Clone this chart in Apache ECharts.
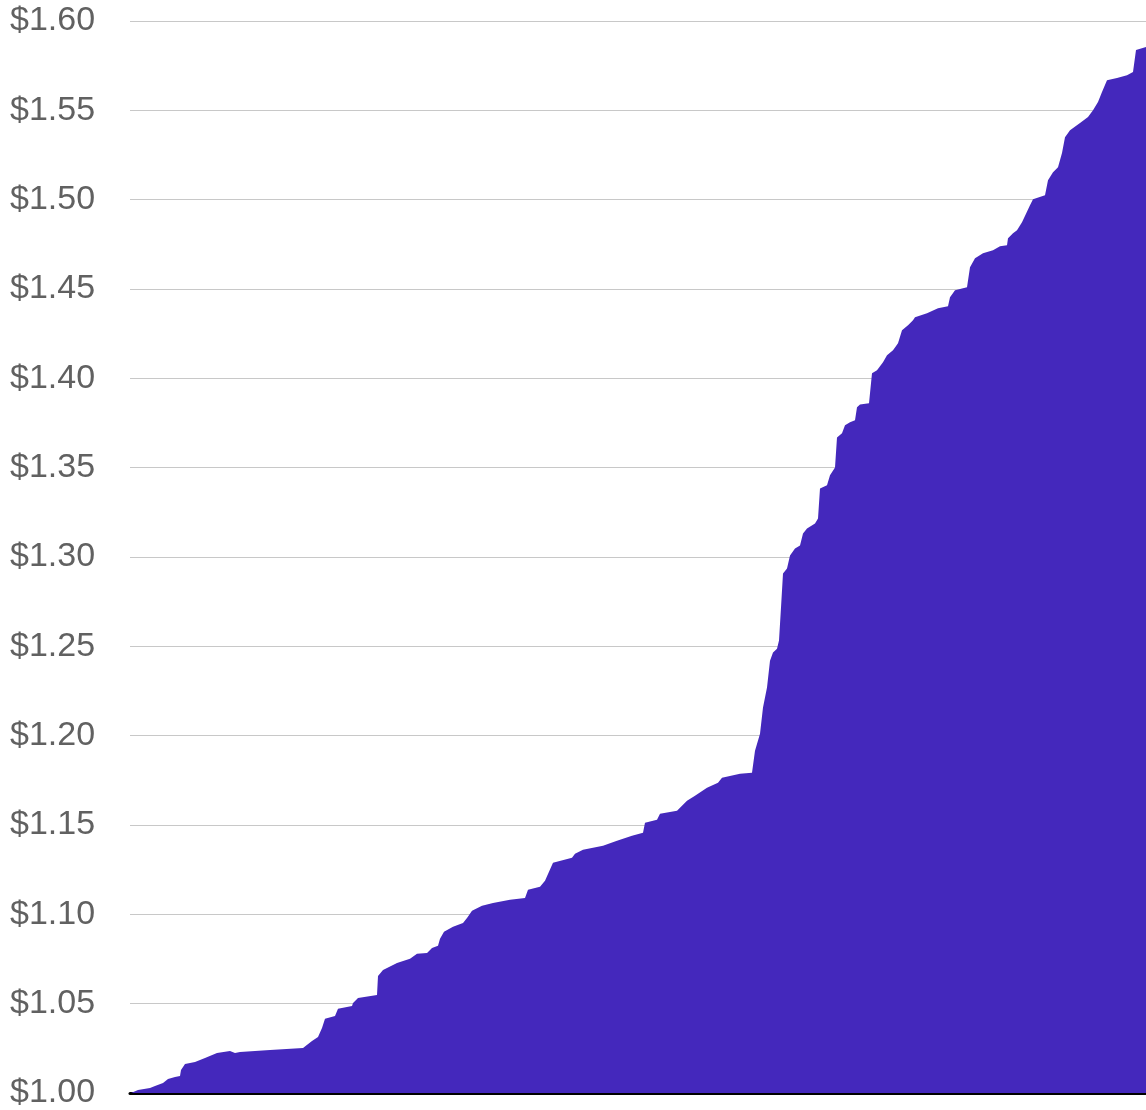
<!DOCTYPE html>
<html>
<head>
<meta charset="utf-8">
<script src="https://cdn.jsdelivr.net/npm/echarts@6/dist/echarts.min.js"></script>
<style>
  html, body { margin: 0; padding: 0; background: #fff; }
  #chart { width: 1146px; height: 1110px; }
</style>
</head>
<body>
<div id="chart"></div>
<script>
// x position along the period (0..1016), and the price at that point
var dayIdx = [
  1, 8, 20, 25, 33, 38, 45, 50, 51, 55, 65, 75, 87, 100, 105, 110, 140, 142, 173, 182,
  188, 192, 195, 205, 208, 222, 223, 228, 247, 248, 253, 267, 280, 287, 297, 302, 308, 310, 314, 323,
  333, 337, 342, 352, 363, 380, 395, 398, 410, 415, 417, 423, 442, 445, 453, 473, 487, 502, 513, 515,
  527, 530, 547, 557, 565, 577, 588, 592, 610, 622, 623, 625, 630, 633, 637, 640, 643, 647, 649, 651,
  653, 657, 660, 665, 670, 673, 677, 685, 688, 690, 697, 700, 705, 707, 712, 715, 720, 725, 727, 730,
  739, 742, 747, 753, 757, 763, 768, 772, 778, 783, 785, 797, 808, 818, 820, 825, 837, 840, 845, 853,
  863, 870, 877, 878, 883, 887, 892, 900, 903, 915, 918, 923, 928, 932, 935, 940, 950, 958, 963, 968,
  972, 977, 987, 997, 1003, 1006, 1016
];
var price = [
  1.0000, 1.0017, 1.0028, 1.0039, 1.0056, 1.0078, 1.0090, 1.0095, 1.0129, 1.0162,
  1.0174, 1.0196, 1.0224, 1.0235, 1.0224, 1.0230, 1.0241, 1.0246, 1.0252, 1.0291,
  1.0314, 1.0364, 1.0415, 1.0431, 1.0471, 1.0487, 1.0504, 1.0532, 1.0549, 1.0655,
  1.0689, 1.0728, 1.0751, 1.0779, 1.0784, 1.0812, 1.0824, 1.0863, 1.0902, 1.0930,
  1.0952, 1.0980, 1.1020, 1.1048, 1.1064, 1.1081, 1.1092, 1.1137, 1.1154, 1.1188,
  1.1199, 1.1289, 1.1317, 1.1339, 1.1361, 1.1384, 1.1412, 1.1440, 1.1457, 1.1513,
  1.1529, 1.1563, 1.1580, 1.1636, 1.1664, 1.1709, 1.1737, 1.1765, 1.1787, 1.1793,
  1.1793, 1.1916, 1.2011, 1.2157, 1.2269, 1.2420, 1.2465, 1.2487, 1.2532, 1.2717,
  1.2908, 1.2936, 1.3008, 1.3048, 1.3064, 1.3132, 1.3160, 1.3188, 1.3216, 1.3384,
  1.3401, 1.3457, 1.3501, 1.3669, 1.3692, 1.3737, 1.3754, 1.3765, 1.3838, 1.3854,
  1.3860, 1.4028, 1.4045, 1.4090, 1.4129, 1.4157, 1.4196, 1.4269, 1.4297, 1.4325,
  1.4342, 1.4364, 1.4392, 1.4403, 1.4454, 1.4493, 1.4510, 1.4622, 1.4672, 1.4700,
  1.4717, 1.4739, 1.4745, 1.4784, 1.4812, 1.4829, 1.4874, 1.4969, 1.5003, 1.5025,
  1.5109, 1.5154, 1.5182, 1.5261, 1.5350, 1.5389, 1.5429, 1.5462, 1.5501, 1.5546,
  1.5602, 1.5669, 1.5681, 1.5697, 1.5714, 1.5838, 1.5854
];
var yTicks = [1.00, 1.05, 1.10, 1.15, 1.20, 1.25, 1.30, 1.35, 1.40, 1.45, 1.50, 1.55, 1.60];

var points = dayIdx.map(function (d, i) { return [d, price[i]]; });

var chart = echarts.init(document.getElementById('chart'));
chart.setOption({
  animation: false,
  grid: { left: 130, right: 0, top: 21, bottom: 17 },
  xAxis: {
    type: 'value',
    min: 0,
    max: 1016,
    axisLabel: { show: false },
    axisTick: { show: false },
    splitLine: { show: false },
    axisLine: { show: true, lineStyle: { color: '#000', width: 3 } }
  },
  yAxis: {
    type: 'value',
    min: yTicks[0],
    max: yTicks[yTicks.length - 1],
    interval: 0.05,
    axisLine: { show: false },
    axisTick: { show: false },
    axisLabel: {
      align: 'left',
      margin: 120,
      fontSize: 34,
      padding: [5, 0, 0, 0],
      fontFamily: 'Liberation Sans, Arial, sans-serif',
      color: '#616161',
      formatter: function (v) { return '$' + v.toFixed(2); }
    },
    splitLine: { lineStyle: { color: '#c8c8c8', width: 1 } }
  },
  series: [{
    type: 'line',
    data: points,
    showSymbol: false,
    smooth: false,
    lineStyle: { width: 0 },
    areaStyle: { color: '#4428BC', opacity: 1 }
  }]
});
</script>
</body>
</html>
